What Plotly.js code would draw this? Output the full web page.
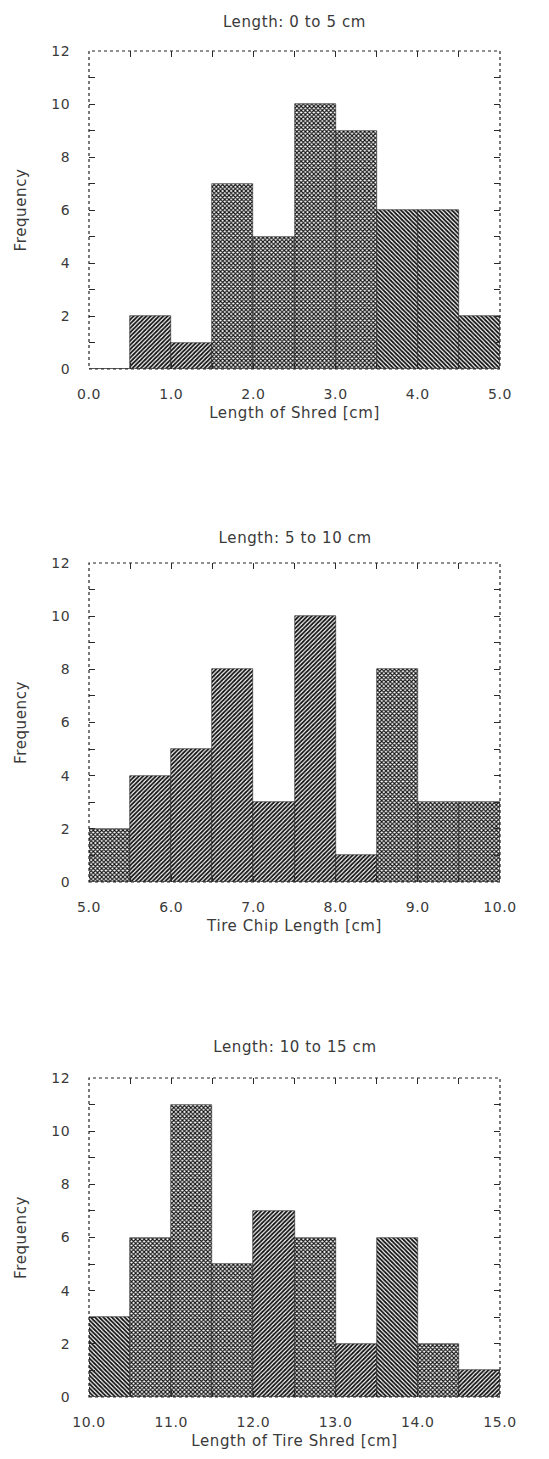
<!DOCTYPE html>
<html><head><meta charset="utf-8">
<script src="https://cdn.plot.ly/plotly-3.0.1.min.js"></script>
<style>html,body{margin:0;padding:0;background:#fff}
#chart text{letter-spacing:0.6px}</style>
</head><body><div id="chart" style="width:549px;height:1459px"></div>
<script>
const titles = ["Length: 0 to 5 cm", "Length: 5 to 10 cm", "Length: 10 to 15 cm"];
const xTitles = ["Length of Shred [cm]", "Tire Chip Length [cm]", "Length of Tire Shred [cm]"];
const centers1 = [0.25,0.75,1.25,1.75,2.25,2.75,3.25,3.75,4.25,4.75];
const counts1 = [0,2,1,7,5,10,9,6,6,2];
const centers2 = [5.25,5.75,6.25,6.75,7.25,7.75,8.25,8.75,9.25,9.75];
const counts2 = [2,4,5,8,3,10,1,8,3,3];
const centers3 = [10.25,10.75,11.25,11.75,12.25,12.75,13.25,13.75,14.25,14.75];
const counts3 = [3,6,11,5,7,6,2,6,2,1];
const ranges = [[0,5],[5,10],[10,15]];
const patterns1 = ["/","/","/","x","x","x","x","\\","\\","\\"];
const patterns2 = ["x","/","/","/","/","/","/","x","x","x"];
const patterns3 = ["\\","x","x","x","/","x","/","\\","x","/"];

const centers = [centers1, centers2, centers3];
const counts = [counts1, counts2, counts3];
const pats = [patterns1, patterns2, patterns3];

const H = 1459, W = 549;
const xDom = [89/W, 500/W];
const yDoms = [[(H-369)/H,(H-51)/H],[(H-882)/H,(H-563)/H],[(H-1397)/H,(H-1078)/H]];
const titleY = [22, 538, 1047];
const fam = "DejaVu Sans, sans-serif";
const txt = "#3a3a3a";
const tk = "#2a2a2a";

const data = [];
const layout = {
  width: W, height: H, margin: {l:0,r:0,t:0,b:0},
  paper_bgcolor: "#fff", plot_bgcolor: "rgba(0,0,0,0)", showlegend: false,
  font: {family: fam, color: txt, size: 14}, bargap: 0, annotations: [], shapes: []
};
for (let i = 0; i < 3; i++) {
  const n = i + 1;
  const xa = n === 1 ? "x" : "x" + n;
  const ya = n === 1 ? "y" : "y" + n;
  data.push({
    type: "bar", x: centers[i], y: counts[i], xaxis: xa, yaxis: ya, width: 0.5,
    marker: {color: "#fff", line: {color: "#222", width: 0.6},
      pattern: {shape: pats[i], fgcolor: "#111", bgcolor: "#fff", size: 3, solidity: 0.6}},
    hoverinfo: "skip"
  });
  const xk = n === 1 ? "xaxis" : "xaxis" + n;
  const yk = n === 1 ? "yaxis" : "yaxis" + n;
  layout[xk] = {
    domain: xDom, anchor: ya, range: ranges[i], dtick: 0.5, tick0: 0,
    tickvals: [0,1,2,3,4,5].map(v => v + ranges[i][0]).concat([0.5,1.5,2.5,3.5,4.5].map(v => v + ranges[i][0])),
    ticktext: [0,1,2,3,4,5].map(v => (v + ranges[i][0]).toFixed(1)).concat(["","","","",""]),
    showgrid: false, zeroline: false, showline: true, linecolor: "#fff", mirror: "ticks",
    ticks: "inside", ticklen: 6, tickwidth: 1.2, tickcolor: tk,
    tickfont: {family: fam, size: 14, color: txt}, ticklabelstandoff: 12,
    title: {text: xTitles[i], font: {family: fam, size: 15, color: txt}, standoff: 6}
  };
  layout[yk] = {
    domain: yDoms[i], anchor: xa, range: [0,12],
    tickvals: [0,2,4,6,8,10,12,1,3,5,7,9,11],
    ticktext: ["0","2","4","6","8","10","12","","","","","",""],
    showgrid: false, zeroline: false, showline: true, linecolor: "#fff", mirror: "ticks",
    ticks: "inside", ticklen: 6, tickwidth: 1.2, tickcolor: tk,
    tickfont: {family: fam, size: 14, color: txt}, ticklabelstandoff: 15,
    title: {text: "Frequency", font: {family: fam, size: 15, color: txt}, standoff: 22}
  };
  layout.annotations.push({
    text: titles[i], xref: "paper", yref: "paper", x: (xDom[0]+xDom[1])/2,
    y: (H - titleY[i])/H, showarrow: false, font: {family: fam, size: 15, color: txt},
    xanchor: "center", yanchor: "middle"
  });
  layout.shapes.push({
    type: "rect", xref: xa + " domain", yref: ya + " domain", x0: 0, x1: 1, y0: 0, y1: 1,
    line: {color: "#222", width: 1.2, dash: "dot"}, layer: "above"
  });
}
Plotly.newPlot("chart", data, layout, {displayModeBar: false});
</script></body></html>
